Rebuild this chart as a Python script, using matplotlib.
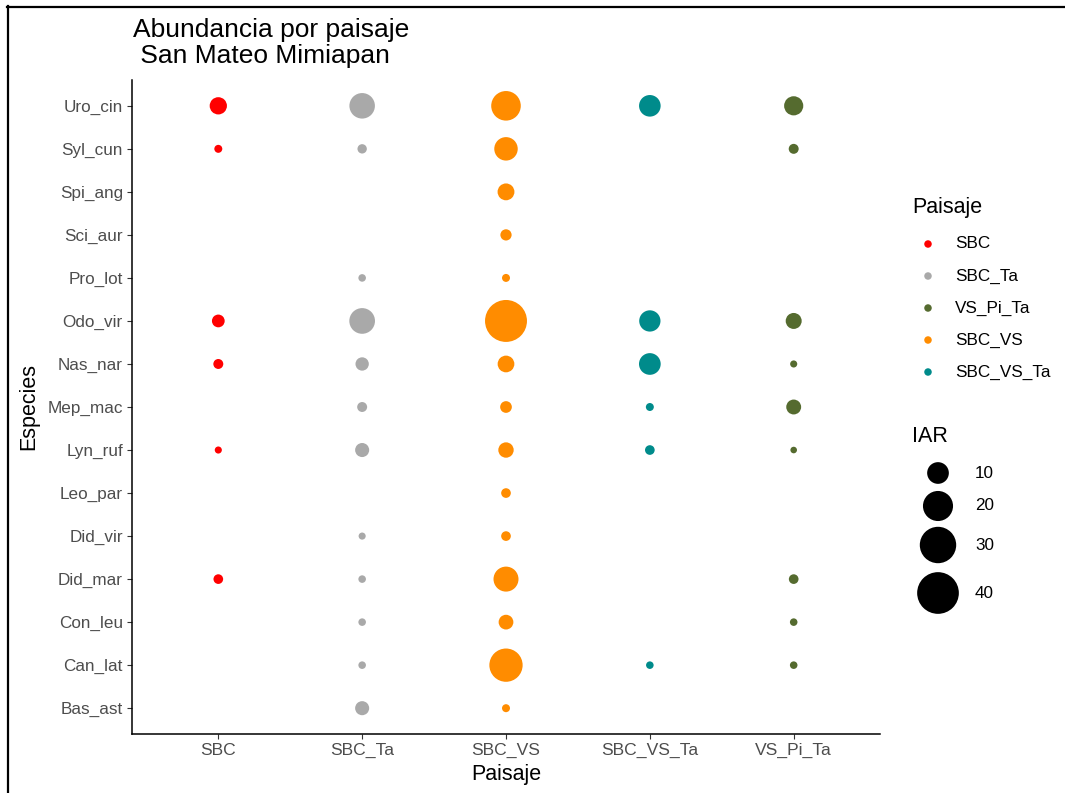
import numpy as np
import matplotlib
matplotlib.use("Agg")
import matplotlib.pyplot as plt
from matplotlib.lines import Line2D

plt.rcParams['font.family'] = ['Liberation Sans', 'DejaVu Sans']

W, H = 1065, 793
DPI = 100

# Species listed from bottom to top of the y axis
species = ["Bas_ast", "Can_lat", "Con_leu", "Did_mar", "Did_vir", "Leo_par",
           "Lyn_ruf", "Mep_mac", "Nas_nar", "Odo_vir", "Pro_lot", "Sci_aur",
           "Spi_ang", "Syl_cun", "Uro_cin"]

# Landscapes along the x axis
paisajes = ["SBC", "SBC_Ta", "SBC_VS", "SBC_VS_Ta", "VS_Pi_Ta"]

nan = np.nan
# IAR per species (same order as `species`) for each landscape
iar_sbc = [nan, nan, nan, 2.1, nan, nan, 1.4, nan, 2.2, 3.4, nan, nan, nan, 1.6, 6.2]
iar_sbc_ta = [4.1, 1.5, 1.5, 1.5, 1.4, nan, 4.1, 2.2, 3.7, 14.3, 1.5, nan, nan, 2.0, 14.1]
iar_sbc_vs = [1.6, 24.8, 4.5, 13.5, 2.1, 2.1, 4.9, 2.9, 5.8, 40.5, 1.6, 2.7, 5.9, 11.8, 19.3]
iar_sbc_vs_ta = [nan, 1.5, nan, nan, nan, nan, 2.1, 1.6, 10.0, 9.6, nan, nan, nan, nan, 9.9]
iar_vs_pi_ta = [nan, 1.5, 1.5, 2.1, nan, nan, 1.3, 4.6, 1.4, 5.3, nan, nan, nan, 2.2, 7.7]

series = {
    "SBC": iar_sbc,
    "SBC_Ta": iar_sbc_ta,
    "SBC_VS": iar_sbc_vs,
    "SBC_VS_Ta": iar_sbc_vs_ta,
    "VS_Pi_Ta": iar_vs_pi_ta,
}

colores = {
    "SBC": "#FF0000",
    "SBC_Ta": "#A9A9A9",
    "VS_Pi_Ta": "#556B2F",
    "SBC_VS": "#FF8C00",
    "SBC_VS_Ta": "#008B8B",
}
orden_leyenda = ["SBC", "SBC_Ta", "VS_Pi_Ta", "SBC_VS", "SBC_VS_Ta"]
breaks_iar = [10, 20, 30, 40]

# Area scale: diameter grows with sqrt of the rescaled value
IAR_MIN, IAR_MAX = 1.0, 40.0
D_MIN, D_MAX = 3.2, 41.7  # pixels


def size_pts2(v):
    v = np.asarray(v, dtype=float)
    t = np.clip((v - IAR_MIN) / (IAR_MAX - IAR_MIN), 0, None)
    d_px = D_MIN + (D_MAX - D_MIN) * np.sqrt(t)
    d_pt = d_px * 72.0 / DPI
    return d_pt ** 2


fig = plt.figure(figsize=(W / DPI, H / DPI), dpi=DPI)
fig.patch.set_facecolor("white")


def fx(px):
    return px / W


def fy(py):
    return 1 - py / H


# Panel
left, right, top, bottom = 132, 880, 80, 734
ax = fig.add_axes([fx(left), fy(bottom), (right - left) / W, (bottom - top) / H])
ax.set_facecolor("white")

ypos = np.arange(len(species))
for i, p in enumerate(paisajes):
    vals = np.array(series[p], dtype=float)
    ok = ~np.isnan(vals)
    ax.scatter(np.full(ok.sum(), i), ypos[ok], s=size_pts2(vals[ok]),
               color=colores[p], edgecolors="none", zorder=3)

ax.set_xlim(-0.6, len(paisajes) - 1 + 0.6)
ax.set_ylim(-0.6, len(species) - 1 + 0.6)
ax.set_xticks(range(len(paisajes)))
ax.set_xticklabels(paisajes)
ax.set_yticks(ypos)
ax.set_yticklabels(species)
for s in ["top", "right"]:
    ax.spines[s].set_visible(False)
for s in ["left", "bottom"]:
    ax.spines[s].set_linewidth(1.1)
    ax.spines[s].set_color("black")
ax.tick_params(axis="both", length=3.5, width=0.8, color="#333333",
               labelsize=12.3, labelcolor="#4D4D4D", pad=3)
ax.tick_params(axis="x", labelsize=12.6)

ax.set_xlabel("Paisaje", fontsize=15.5, color="black", labelpad=4)
ax.set_ylabel("Especies", fontsize=15.5, color="black", labelpad=6)

fig.text(fx(133), fy(18), "Abundancia por paisaje\n San Mateo Mimiapan",
         fontsize=19, color="black", ha="left", va="top", linespacing=1.08)

# Legends drawn on a transparent overlay in pixel coordinates
lg = fig.add_axes([0, 0, 1, 1], facecolor="none")
lg.set_xlim(0, W)
lg.set_ylim(H, 0)
lg.axis("off")

lg.text(912, 208, "Paisaje", fontsize=15.5, ha="left", va="center", color="black")
key_y = [244, 276, 308, 340, 372]
for name, yy in zip(orden_leyenda, key_y):
    lg.scatter([928], [yy], s=(7.5 * 72 / DPI) ** 2, color=colores[name],
               edgecolors="none")
    lg.text(955, yy, name, fontsize=12.3, ha="left", va="center", color="black")

lg.text(912, 437, "IAR", fontsize=15.5, ha="left", va="center", color="black")
size_y = [473, 506, 545, 593]
for b, yy in zip(breaks_iar, size_y):
    lg.scatter([938], [yy], s=size_pts2(b), color="black", edgecolors="none")
    lg.text(975, yy, str(b), fontsize=12.3, ha="left", va="center", color="black")

# Outer frame lines (left and top)
fig.add_artist(Line2D([fx(8), fx(8)], [fy(6), 0], transform=fig.transFigure,
                      color="black", linewidth=1.6))
fig.add_artist(Line2D([fx(7), 1], [fy(7), fy(7)], transform=fig.transFigure,
                      color="black", linewidth=1.6))

fig.savefig("out.png", dpi=DPI, facecolor="white")
